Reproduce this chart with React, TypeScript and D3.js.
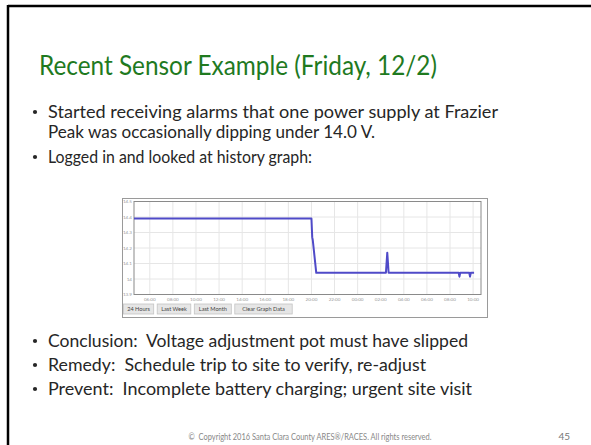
import * as d3 from "d3";

// voltage history samples (Thu 12/1 -> Fri 12/2, 2016)
const sampleTimes = [
  "2016-12-01T04:38",
  "2016-12-01T20:00",
  "2016-12-01T20:04",
  "2016-12-01T20:07",
  "2016-12-01T20:25",
  "2016-12-02T02:27",
  "2016-12-02T02:34",
  "2016-12-02T02:41",
  "2016-12-02T08:45",
  "2016-12-02T08:49",
  "2016-12-02T08:53",
  "2016-12-02T09:40",
  "2016-12-02T09:44",
  "2016-12-02T09:48",
  "2016-12-02T10:05",
];
const voltages = [
  14.39, 14.39, 14.27, 14.25, 14.04, 14.04, 14.17, 14.04, 14.04, 14.015,
  14.04, 14.04, 14.015, 14.04, 14.04,
];
const yTicks = [13.9, 14.0, 14.1, 14.2, 14.3, 14.4, 14.5];
const timeDomain = ["2016-12-01T04:38", "2016-12-02T10:41"];
const buttons = ["24 Hours", "Last Week", "Last Month", "Clear Graph Data"];

const title = "Recent Sensor Example (Friday, 12/2)";
const topBullets = [
  ["Started receiving alarms that one power supply at Frazier", "Peak was occasionally dipping under 14.0 V."],
  ["Logged in and looked at history graph:"],
];
const bottomBullets = [
  "Conclusion:  Voltage adjustment pot must have slipped",
  "Remedy:  Schedule trip to site to verify, re-adjust",
  "Prevent:  Incomplete battery charging; urgent site visit",
];
const footer = "\u00A9  Copyright 2016 Santa Clara County ARES\u00AE/RACES. All rights reserved.";
const pageNo = "45";

const W = 591;
const H = 445;
const FONT = "Lato, 'Open Sans', sans-serif";

// rough widths of the slide's Calibri text
const topWidths = [[450, 327], [264]];
const bottomWidths = [420, 378, 424];

export default function App() {
  const parse = d3.timeParse("%Y-%m-%dT%H:%M");
  const points = sampleTimes.map((t, i) => ({ t: parse(t) as Date, v: voltages[i] }));

  const x = d3
    .scaleTime()
    .domain(timeDomain.map((t) => parse(t) as Date))
    .range([134, 481]);
  const y = d3.scaleLinear().domain([13.9, 14.5]).range([294.5, 201.5]);

  const xTicks = x.ticks(d3.timeHour.every(2) as d3.TimeInterval);
  const fmt = d3.timeFormat("%H:%M");

  const line = d3
    .line<{ t: Date; v: number }>()
    .x((d) => x(d.t))
    .y((d) => y(d.v));

  const [x0, x1] = x.range();
  const [yb, yt] = y.range();

  let bx = 123.5;
  const btns = buttons.map((b) => {
    const w = b.length * 3.4 + 3;
    const r = { label: b, x: bx, w };
    bx += w + 3.5;
    return r;
  });

  return (
    <svg
      width={W}
      height={H}
      style={{ position: "absolute", left: 0, top: 0, background: "#fff" }}
      fontFamily={FONT}
    >
      {/* slide border */}
      <line x1={8} y1={6} x2={W} y2={6} stroke="#000" strokeWidth={2.5} />
      <line x1={8} y1={5} x2={8} y2={H} stroke="#000" strokeWidth={2.5} />

      <text x={39} y={75} fontSize={26} fill="#1f7a1f" textLength={398} lengthAdjust="spacingAndGlyphs">
        {title}
      </text>

      {topBullets.map((lines, i) => {
        const base = i === 0 ? 118 : 163;
        return (
          <g key={i}>
            <circle cx={35} cy={base - 6} r={2.1} fill="#262626" />
            {lines.map((l, j) => (
              <text
                key={j}
                x={48}
                y={base + j * 20}
                fontSize={18}
                fill="#262626"
                textLength={topWidths[i][j]}
                lengthAdjust="spacingAndGlyphs"
              >
                {l}
              </text>
            ))}
          </g>
        );
      })}

      {/* embedded history graph */}
      <rect x={122.5} y={198.5} width={365} height={119} fill="#fff" stroke="#9a9a9a" />
      <g>
        {yTicks.map((v) => (
          <line key={v} x1={x0} x2={x1} y1={y(v)} y2={y(v)} stroke="#e6e6e6" strokeWidth={1} />
        ))}
        {xTicks.map((t) => (
          <line key={+t} x1={x(t)} x2={x(t)} y1={yt} y2={yb} stroke="#e6e6e6" strokeWidth={1} />
        ))}
        <rect x={x0} y={yt} width={x1 - x0} height={yb - yt} fill="none" stroke="#8a8a8a" />
        <path d={line(points) ?? ""} fill="none" stroke="#4f4ac8" strokeWidth={2} strokeLinejoin="round" />
        {yTicks.map((v) => (
          <text key={v} x={132} y={y(v) + 1.6} fontSize={4.6} fill="#999" textAnchor="end">
            {String(+v.toFixed(1))}
          </text>
        ))}
        {xTicks.map((t) => (
          <text key={+t} x={x(t)} y={300.5} fontSize={4.6} fill="#999" textAnchor="middle">
            {fmt(t)}
          </text>
        ))}
        {btns.map((b) => (
          <g key={b.label}>
            <rect x={b.x} y={304} width={b.w} height={10} fill="#e6e6e6" stroke="#c4c4c4" strokeWidth={0.8} />
            <text x={b.x + b.w / 2} y={311.2} fontSize={5.6} fill="#444" textAnchor="middle">
              {b.label}
            </text>
          </g>
        ))}
      </g>

      {bottomBullets.map((b, i) => (
        <g key={b}>
          <circle cx={35} cy={347 + i * 24 - 6} r={2.1} fill="#262626" />
          <text
            x={48}
            y={347 + i * 24}
            fontSize={18}
            fill="#262626"
            style={{ whiteSpace: "pre" }}
            textLength={bottomWidths[i]}
            lengthAdjust="spacingAndGlyphs"
          >
            {b}
          </text>
        </g>
      ))}

      <text x={310} y={440} fontSize={8.5} fill="#888" textAnchor="middle" style={{ whiteSpace: "pre" }} textLength={243} lengthAdjust="spacingAndGlyphs">
        {footer}
      </text>
      <text x={570} y={440} fontSize={10} fill="#777" textAnchor="end">
        {pageNo}
      </text>
    </svg>
  );
}
